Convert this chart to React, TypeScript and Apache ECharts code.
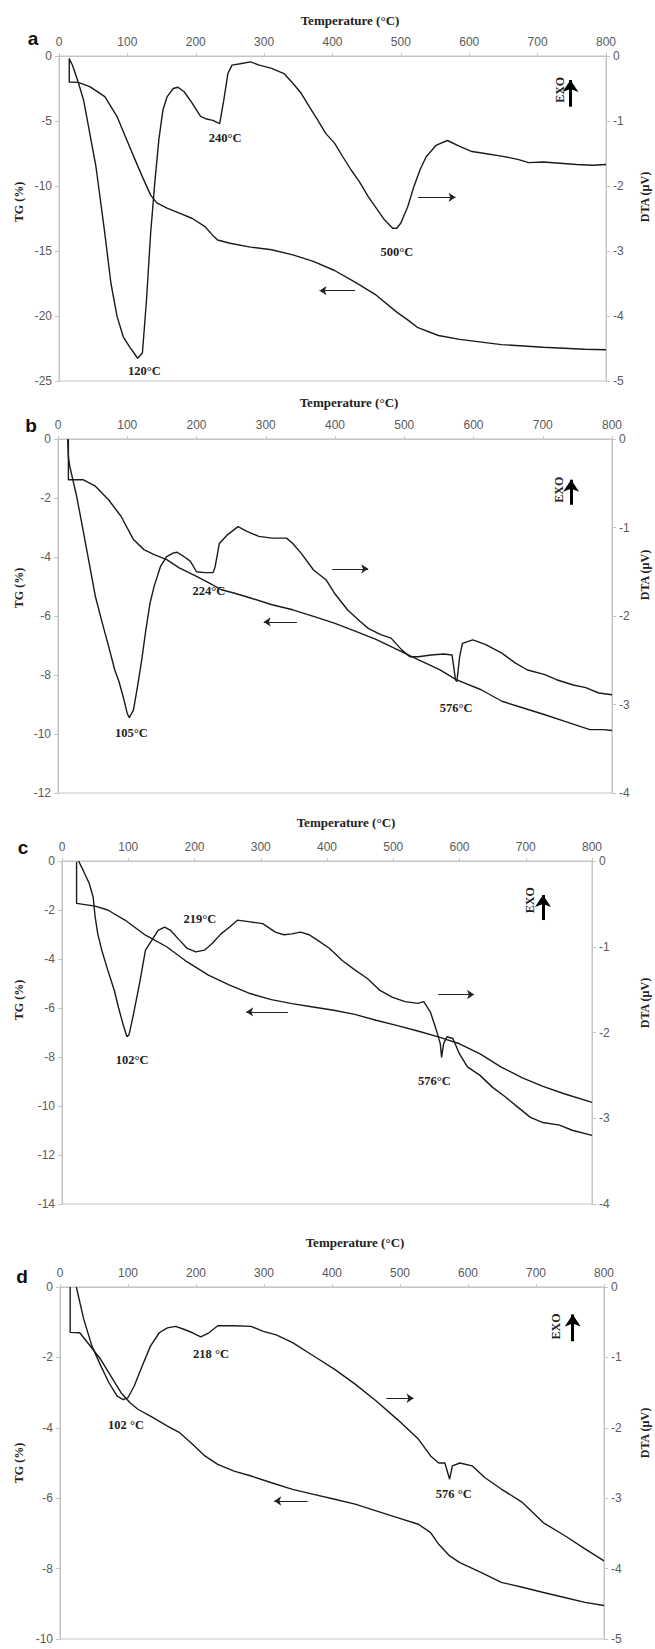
import React, { useEffect, useRef } from 'react';
import * as echarts from 'echarts';

// ---------- data ----------
const panelLetters = ['a', 'b', 'c', 'd'];
const tempTicks = { min: 0, max: 800, interval: 100 };
const tgRanges = [[-25, 0, 5], [-12, 0, 2], [-14, 0, 2], [-10, 0, 2]];
const dtaRanges = [[-5, 0, 1], [-4, 0, 1], [-4, 0, 1], [-5, 0, 1]];

const tgA = [[15,-0.2],[15,-2.0],[28,-2.03],[45,-2.35],[67,-3.13],[85,-4.67],[97,-6.2],[109,-7.7],[122,-9.3],[134,-10.7],[143,-11.3],[158,-11.7],[177,-12.1],[195,-12.5],[213,-13.1],[225,-13.8],[232,-14.15],[250,-14.4],[280,-14.7],[311,-14.9],[342,-15.3],[372,-15.8],[403,-16.5],[433,-17.4],[464,-18.4],[494,-19.7],[510,-20.3],[525,-20.9],[555,-21.5],[586,-21.8],[647,-22.2],[708,-22.4],[769,-22.56],[800,-22.6]];
const dtaA = [[15,-0.04],[20,-0.15],[28,-0.4],[36,-0.68],[54,-1.7],[67,-2.73],[76,-3.5],[85,-4.01],[94,-4.32],[103,-4.47],[115,-4.65],[122,-4.57],[128,-3.75],[134,-2.73],[140,-1.96],[146,-1.29],[152,-0.83],[158,-0.63],[167,-0.5],[174,-0.48],[183,-0.55],[195,-0.73],[207,-0.93],[216,-0.97],[225,-0.99],[235,-1.04],[241,-0.68],[247,-0.27],[253,-0.14],[265,-0.12],[280,-0.09],[293,-0.14],[311,-0.19],[329,-0.27],[342,-0.42],[354,-0.57],[366,-0.78],[378,-0.98],[390,-1.19],[403,-1.34],[415,-1.55],[427,-1.75],[439,-1.93],[452,-2.16],[464,-2.34],[476,-2.52],[488,-2.65],[494,-2.65],[500,-2.57],[510,-2.32],[519,-2.01],[528,-1.75],[537,-1.55],[552,-1.37],[568,-1.3],[586,-1.39],[604,-1.47],[623,-1.5],[647,-1.54],[671,-1.59],[687,-1.64],[708,-1.63],[733,-1.65],[757,-1.67],[781,-1.68],[800,-1.67]];

const tgB = [[15,-0.02],[15,-1.38],[36,-1.38],[54,-1.6],[73,-2.06],[91,-2.62],[109,-3.41],[124,-3.75],[139,-3.92],[157,-4.09],[175,-4.37],[200,-4.66],[218,-4.88],[236,-5.11],[254,-5.22],[278,-5.39],[309,-5.62],[339,-5.79],[369,-6.01],[399,-6.24],[430,-6.52],[460,-6.8],[490,-7.14],[520,-7.48],[551,-7.82],[575,-8.16],[611,-8.5],[641,-8.89],[672,-9.12],[702,-9.34],[732,-9.57],[768,-9.85],[787,-9.85],[800,-9.88]];
const dtaB = [[14,0],[15,-0.2],[17,-0.31],[27,-0.65],[36,-1.02],[45,-1.4],[54,-1.78],[64,-2.08],[73,-2.34],[82,-2.61],[88,-2.74],[94,-2.91],[100,-3.1],[103,-3.15],[109,-3.06],[115,-2.79],[121,-2.49],[127,-2.15],[133,-1.85],[139,-1.66],[148,-1.44],[157,-1.33],[166,-1.29],[172,-1.28],[182,-1.33],[191,-1.38],[200,-1.5],[212,-1.51],[224,-1.51],[227,-1.44],[233,-1.18],[245,-1.08],[260,-0.99],[272,-1.04],[290,-1.1],[309,-1.12],[330,-1.12],[339,-1.18],[351,-1.29],[369,-1.48],[387,-1.59],[399,-1.74],[418,-1.93],[436,-2.06],[448,-2.14],[466,-2.21],[481,-2.25],[496,-2.38],[508,-2.46],[520,-2.46],[539,-2.44],[557,-2.43],[569,-2.44],[574,-2.72],[576,-2.74],[580,-2.46],[584,-2.31],[599,-2.27],[617,-2.32],[641,-2.42],[660,-2.53],[678,-2.61],[702,-2.66],[720,-2.72],[744,-2.78],[762,-2.81],[781,-2.87],[800,-2.89]];

const tgC = [[22,-0.03],[22,-1.73],[50,-1.84],[69,-2.0],[95,-2.41],[126,-3.03],[158,-3.5],[189,-4.12],[221,-4.66],[253,-5.07],[284,-5.41],[316,-5.66],[347,-5.82],[379,-5.96],[410,-6.09],[442,-6.26],[474,-6.5],[505,-6.71],[537,-6.94],[568,-7.18],[600,-7.46],[631,-7.87],[663,-8.41],[695,-8.85],[726,-9.2],[758,-9.5],[800,-9.85]];
const dtaC = [[25,0],[32,-0.11],[41,-0.26],[47,-0.42],[50,-0.65],[54,-0.85],[60,-1.04],[69,-1.27],[79,-1.51],[85,-1.7],[92,-1.9],[98,-2.05],[101,-2.03],[107,-1.82],[117,-1.43],[126,-1.04],[136,-0.92],[145,-0.81],[155,-0.77],[164,-0.81],[177,-0.92],[189,-1.02],[202,-1.06],[215,-1.04],[227,-0.96],[240,-0.85],[253,-0.77],[265,-0.69],[284,-0.71],[303,-0.73],[322,-0.83],[335,-0.86],[347,-0.85],[360,-0.83],[373,-0.86],[385,-0.92],[404,-1.02],[423,-1.16],[442,-1.27],[461,-1.37],[480,-1.51],[499,-1.59],[518,-1.64],[537,-1.66],[546,-1.64],[556,-1.76],[565,-1.97],[571,-2.13],[573,-2.29],[576,-2.13],[581,-2.05],[590,-2.07],[600,-2.25],[612,-2.4],[631,-2.5],[650,-2.64],[669,-2.75],[688,-2.87],[707,-2.99],[726,-3.05],[751,-3.08],[770,-3.14],[800,-3.2]];

const tgD = [[15,0],[15,-1.29],[29,-1.3],[41,-1.59],[60,-2.06],[78,-2.63],[90,-3.01],[103,-3.29],[115,-3.48],[133,-3.67],[158,-3.95],[176,-4.14],[195,-4.47],[213,-4.8],[232,-5.04],[256,-5.23],[281,-5.37],[311,-5.56],[342,-5.75],[373,-5.89],[404,-6.03],[434,-6.17],[465,-6.36],[496,-6.55],[527,-6.74],[545,-6.98],[557,-7.31],[573,-7.64],[588,-7.83],[619,-8.11],[649,-8.39],[680,-8.53],[711,-8.68],[742,-8.82],[772,-8.96],[800,-9.05]];
const dtaD = [[24,0],[35,-0.46],[47,-0.84],[60,-1.12],[72,-1.36],[84,-1.55],[93,-1.6],[100,-1.57],[109,-1.41],[121,-1.12],[133,-0.84],[146,-0.65],[158,-0.58],[170,-0.56],[182,-0.6],[195,-0.65],[207,-0.71],[219,-0.65],[232,-0.55],[256,-0.55],[281,-0.56],[299,-0.63],[318,-0.68],[342,-0.79],[373,-0.98],[404,-1.17],[434,-1.38],[465,-1.62],[496,-1.88],[527,-2.16],[545,-2.4],[557,-2.5],[566,-2.5],[573,-2.73],[577,-2.54],[588,-2.5],[606,-2.54],[625,-2.71],[649,-2.87],[680,-3.06],[711,-3.35],[742,-3.53],[772,-3.72],[800,-3.89]];

// peak labels: [temperature, TG value, text]
const peaksA = [[125, -24.2, '120°C'], [243, -6.33, '240°C'], [494, -15.05, '500°C']];
const peaksB = [[106, -9.95, '105°C'], [218, -5.16, '224°C'], [575, -9.12, '576°C']];
const peaksC = [[106, -8.14, '102°C'], [208, -2.37, '219°C'], [562, -8.96, '576°C']];
const peaksD = [[97, -3.93, '102 °C'], [222, -1.89, '218 °C'], [579, -5.89, '576 °C']];
// direction arrows: [x1, y1, x2, y2] in (temperature, TG)
const arrowsA = [[525, -10.87, 580, -10.87], [433, -18.05, 381, -18.05]];
const arrowsB = [[396, -4.4, 448, -4.4], [345, -6.2, 297, -6.2]];
const arrowsC = [[568, -5.45, 622, -5.45], [341, -6.16, 278, -6.16]];
const arrowsD = [[480, -3.16, 520, -3.16], [364, -6.08, 315, -6.08]];
// EXO marker: [textX, textY, arrowX, arrowY1, arrowY2]
const exoA = [733, -2.6, 748, -3.9, -1.85];
const exoB = [723, -1.72, 741, -2.23, -1.38];
const exoC = [706, -1.6, 726, -2.41, -1.39];
const exoD = [729, -1.12, 754, -1.54, -0.78];

const tgAll = [tgA, tgB, tgC, tgD];
const dtaAll = [dtaA, dtaB, dtaC, dtaD];
const peaksAll = [peaksA, peaksB, peaksC, peaksD];
const arrowsAll = [arrowsA, arrowsB, arrowsC, arrowsD];
const exoAll = [exoA, exoB, exoC, exoD];

// ---------- layout ----------
const grids = [
  { left: 59, top: 56, width: 547, height: 325 },
  { left: 58, top: 439, width: 554, height: 354 },
  { left: 62, top: 861, width: 530, height: 343 },
  { left: 60, top: 1287, width: 544, height: 352 },
];
const titlePos = [[350, 20], [349, 402], [346, 822], [355, 1242]];
const letterPos = [[33, 38], [31, 425], [23, 847], [22, 1276]];
const tgNamePos = [[19, 202], [19, 588], [19, 1000], [19, 1463]];
const dtaNamePos = [[645, 197], [645, 575], [645, 1003], [645, 1433]];

const SERIF = '"Liberation Serif", "Times New Roman", serif';
const SANS = '"Liberation Sans", Arial, sans-serif';
const AXIS_C = '#c4c4c4';
const LABEL_C = '#5a5a5a';
const INK = '#1a1a1a';

export default function App() {
  const ref = useRef<HTMLDivElement>(null);
  useEffect(() => {
    document.body.style.margin = '0';
    if (!ref.current) return;
    const chart = echarts.init(ref.current, undefined, { renderer: 'svg' });

    const xAxis: any[] = [];
    const yAxis: any[] = [];
    const series: any[] = [];
    const graphic: any[] = [];

    grids.forEach((g, i) => {
      xAxis.push({
        type: 'value', gridIndex: i, position: 'top',
        min: tempTicks.min, max: tempTicks.max, interval: tempTicks.interval,
        axisLine: { show: true, lineStyle: { color: AXIS_C } },
        axisTick: { show: true, length: 3, lineStyle: { color: AXIS_C } },
        axisLabel: { color: LABEL_C, fontFamily: SANS, fontSize: 12, margin: 8 },
        splitLine: { show: false },
      });
      const [tmin, tmax, tint] = tgRanges[i];
      const [dmin, dmax, dint] = dtaRanges[i];
      yAxis.push({
        type: 'value', gridIndex: i, position: 'left', min: tmin, max: tmax, interval: tint,
        axisLine: { show: true, lineStyle: { color: AXIS_C } },
        axisTick: { show: true, length: 4, lineStyle: { color: AXIS_C } },
        axisLabel: { color: LABEL_C, fontFamily: SANS, fontSize: 12, margin: 7 },
        splitLine: { show: false },
      });
      yAxis.push({
        type: 'value', gridIndex: i, position: 'right', min: dmin, max: dmax, interval: dint,
        axisLine: { show: true, lineStyle: { color: AXIS_C } },
        axisTick: { show: true, length: 4, lineStyle: { color: AXIS_C } },
        axisLabel: { color: LABEL_C, fontFamily: SANS, fontSize: 12, margin: 7 },
        splitLine: { show: false },
      });

      const peaks = peaksAll[i];
      const arrows = arrowsAll[i];
      const exo = exoAll[i];

      series.push({
        type: 'line', name: 'TG ' + panelLetters[i], xAxisIndex: i, yAxisIndex: 2 * i,
        data: tgAll[i], showSymbol: false, symbol: 'none',
        lineStyle: { color: INK, width: 1.4 }, silent: true,
        markPoint: {
          silent: true, animation: false,
          data: [
            ...peaks.map((p) => ({
              coord: [p[0], p[1]], symbol: 'circle', symbolSize: 1,
              itemStyle: { color: 'rgba(0,0,0,0)' },
              label: {
                show: true, position: 'inside', formatter: String(p[2]),
                fontFamily: SERIF, fontWeight: 'bold', fontSize: 12.5, color: '#222',
              },
            })),
            {
              coord: [exo[0], exo[1]], symbol: 'circle', symbolSize: 1,
              itemStyle: { color: 'rgba(0,0,0,0)' },
              label: {
                show: true, position: 'inside', formatter: 'EXO', rotate: 90,
                fontFamily: SERIF, fontWeight: 'bold', fontSize: 12, color: '#222',
              },
            },
          ],
        },
        markLine: {
          silent: true, animation: false, symbol: ['none', 'arrow'], symbolSize: 7,
          label: { show: false },
          lineStyle: { color: '#222', width: 1, type: 'solid' },
          data: [
            ...arrows.map((a) => [
              { coord: [a[0], a[1]], symbol: 'none' },
              { coord: [a[2], a[3]], symbol: 'arrow', symbolSize: 7 },
            ]),
            [
              { coord: [exo[2], exo[3]], symbol: 'none', lineStyle: { width: 3, color: '#000', type: 'solid' } },
              { coord: [exo[2], exo[4]], symbol: 'arrow', symbolSize: [12, 12] },
            ],
          ],
        },
      });
      series.push({
        type: 'line', name: 'DTA ' + panelLetters[i], xAxisIndex: i, yAxisIndex: 2 * i + 1,
        data: dtaAll[i], showSymbol: false, symbol: 'none',
        lineStyle: { color: INK, width: 1.4 }, silent: true,
      });

      graphic.push({
        type: 'text', x: titlePos[i][0], y: titlePos[i][1], silent: true,
        style: { text: 'Temperature (°C)', align: 'center', verticalAlign: 'middle', fontFamily: SERIF, fontWeight: 'bold', fontSize: 13, fill: '#222' },
      });
      graphic.push({
        type: 'text', x: letterPos[i][0], y: letterPos[i][1], silent: true,
        style: { text: panelLetters[i], align: 'center', verticalAlign: 'middle', fontFamily: SANS, fontWeight: 'bold', fontSize: 19, fill: '#111' },
      });
      graphic.push({
        type: 'text', x: tgNamePos[i][0], y: tgNamePos[i][1], rotation: Math.PI / 2, silent: true,
        style: { text: 'TG (%)', align: 'center', verticalAlign: 'middle', fontFamily: SERIF, fontWeight: 'bold', fontSize: 12, fill: '#222' },
      });
      graphic.push({
        type: 'text', x: dtaNamePos[i][0], y: dtaNamePos[i][1], rotation: Math.PI / 2, silent: true,
        style: { text: 'DTA (µV)', align: 'center', verticalAlign: 'middle', fontFamily: SERIF, fontWeight: 'bold', fontSize: 12, fill: '#222' },
      });
    });

    chart.setOption({
      animation: false,
      backgroundColor: '#ffffff',
      grid: grids.map((g) => ({ ...g, show: true, borderColor: AXIS_C, borderWidth: 1, backgroundColor: 'transparent', containLabel: false })),
      xAxis,
      yAxis,
      series,
      graphic,
    });
    return () => chart.dispose();
  }, []);
  return <div ref={ref} style={{ width: 655, height: 1649 }} />;
}
